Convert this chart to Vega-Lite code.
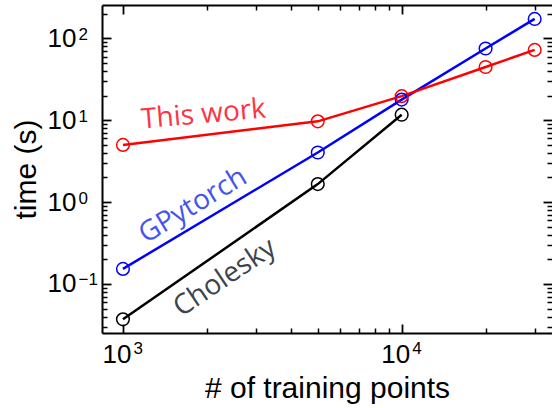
{
  "$schema": "https://vega.github.io/schema/vega-lite/v6.json",
  "autosize": {"type": "none"},
  "padding": {"left": 102, "top": 5, "right": 0, "bottom": 75},
  "width": 450,
  "height": 328,
  "background": "white",
  "config": {
    "view": {"stroke": null},
    "axis": {
      "grid": false,
      "labelFont": "Liberation Sans",
      "labelFontSize": 26,
      "labelColor": "black",
      "titleFont": "Liberation Sans",
      "titleFontSize": 30,
      "titleFontWeight": "normal",
      "titleColor": "black",
      "tickColor": "black",
      "tickWidth": 1.5,
      "domainColor": "black",
      "domainWidth": 2
    }
  },
  "datasets": {
    "series": [
      {"method": "Cholesky", "n": 1000, "t": 0.037},
      {"method": "Cholesky", "n": 5000, "t": 1.66},
      {"method": "Cholesky", "n": 10000, "t": 11.7},
      {"method": "GPytorch", "n": 1000, "t": 0.153},
      {"method": "GPytorch", "n": 5000, "t": 4.04},
      {"method": "GPytorch", "n": 10000, "t": 17.9},
      {"method": "GPytorch", "n": 20000, "t": 75.4},
      {"method": "GPytorch", "n": 30000, "t": 173},
      {"method": "This work", "n": 1000, "t": 5.0},
      {"method": "This work", "n": 5000, "t": 9.7},
      {"method": "This work", "n": 10000, "t": 19.7},
      {"method": "This work", "n": 20000, "t": 44.8},
      {"method": "This work", "n": 30000, "t": 72.4}
    ],
    "labels": [
      {"label": "This work", "n": 1946, "t": 11.6},
      {"label": "GPytorch", "n": 1784, "t": 0.897},
      {"label": "Cholesky", "n": 2323, "t": 0.118}
    ]
  },
  "resolve": {"axis": {"x": "independent", "y": "independent"}},
  "layer": [
    {
      "data": {"name": "series"},
      "mark": {"type": "line", "strokeWidth": 2.5},
      "encoding": {
        "x": {
          "field": "n", "type": "quantitative",
          "scale": {"type": "log", "domain": [841, 34620], "nice": false, "zero": false},
          "axis": {
            "orient": "bottom", "values": [1000, 10000], "tickSize": -9, "tickWidth": 1.8,
            "labelPadding": 17, "labelAlign": "right", "labelOffset": 8, "labelExpr": "'10'",
            "title": "# of training points", "titlePadding": 6, "domain": true
          }
        },
        "y": {
          "field": "t", "type": "quantitative",
          "scale": {"type": "log", "domain": [0.0252, 256], "nice": false, "zero": false},
          "axis": {
            "orient": "left", "values": [0.1, 1, 10, 100], "tickSize": -9, "tickWidth": 1.8,
            "labelPadding": 35, "labelAlign": "right", "labelExpr": "'10'",
            "title": "time (s)", "titlePadding": 6, "domain": true
          }
        },
        "color": {
          "field": "method", "type": "nominal",
          "scale": {"domain": ["Cholesky", "GPytorch", "This work"], "range": ["black", "blue", "red"]},
          "legend": null
        }
      }
    },
    {
      "data": {"name": "series"},
      "mark": {"type": "point", "shape": "circle", "filled": false, "size": 160, "strokeWidth": 1.5, "opacity": 1},
      "encoding": {
        "x": {
          "field": "n", "type": "quantitative",
          "axis": {
            "orient": "bottom", "values": [2000, 3000, 4000, 5000, 6000, 7000, 8000, 9000, 20000, 30000],
            "tickSize": -5, "labels": false, "title": null, "domain": false
          }
        },
        "y": {
          "field": "t", "type": "quantitative",
          "axis": {
            "orient": "left",
            "values": [0.03, 0.04, 0.05, 0.06, 0.07, 0.08, 0.09, 0.2, 0.3, 0.4, 0.5, 0.6, 0.7, 0.8, 0.9, 2, 3, 4, 5, 6, 7, 8, 9, 20, 30, 40, 50, 60, 70, 80, 90, 200],
            "tickSize": -5, "labels": false, "title": null, "domain": false
          }
        },
        "color": {"field": "method", "type": "nominal", "legend": null}
      }
    },
    {
      "data": {"name": "labels"},
      "transform": [{"filter": "datum.label === 'This work'"}],
      "mark": {"type": "text", "font": "Open Sans", "fontSize": 28, "angle": -5, "align": "center", "baseline": "middle", "color": "#ff3344"},
      "encoding": {
        "x": {
          "field": "n", "type": "quantitative",
          "axis": {"orient": "top", "values": [1000, 10000], "tickSize": -9, "tickWidth": 1.8, "labels": false, "title": null, "domain": true}
        },
        "y": {
          "field": "t", "type": "quantitative",
          "axis": {"orient": "right", "values": [0.1, 1, 10, 100], "tickSize": -9, "tickWidth": 1.8, "labels": false, "title": null, "domain": false}
        },
        "text": {"field": "label"}
      }
    },
    {
      "data": {"name": "labels"},
      "transform": [{"filter": "datum.label === 'GPytorch'"}],
      "mark": {"type": "text", "font": "Open Sans", "fontSize": 28, "angle": -31, "align": "center", "baseline": "middle", "color": "#4455ee"},
      "encoding": {
        "x": {
          "field": "n", "type": "quantitative",
          "axis": {
            "orient": "top", "values": [2000, 3000, 4000, 5000, 6000, 7000, 8000, 9000, 20000, 30000],
            "tickSize": -5, "labels": false, "title": null, "domain": false
          }
        },
        "y": {
          "field": "t", "type": "quantitative",
          "axis": {
            "orient": "right",
            "values": [0.03, 0.04, 0.05, 0.06, 0.07, 0.08, 0.09, 0.2, 0.3, 0.4, 0.5, 0.6, 0.7, 0.8, 0.9, 2, 3, 4, 5, 6, 7, 8, 9, 20, 30, 40, 50, 60, 70, 80, 90, 200],
            "tickSize": -5, "labels": false, "title": null, "domain": false
          }
        },
        "text": {"field": "label"}
      }
    },
    {
      "data": {"name": "labels"},
      "transform": [{"filter": "datum.label === 'Cholesky'"}],
      "mark": {"type": "text", "font": "Open Sans", "fontSize": 28, "angle": -34, "align": "center", "baseline": "middle", "color": "#3d4550"},
      "encoding": {
        "x": {
          "field": "n", "type": "quantitative",
          "axis": {
            "orient": "bottom", "values": [1000, 10000], "ticks": false, "tickSize": 0,
            "labelPadding": 7.5, "labelAlign": "left", "labelOffset": 10, "labelFontSize": 17,
            "labelExpr": "datum.value < 5000 ? '3' : '4'", "title": null, "domain": false
          }
        },
        "y": {
          "field": "t", "type": "quantitative",
          "axis": {
            "orient": "left", "values": [0.1, 1, 10, 100], "ticks": false, "tickSize": 0,
            "labelPadding": 24, "labelAlign": "left", "labelOffset": -4, "labelFontSize": 17,
            "labelExpr": "datum.value < 0.5 ? '−1' : datum.value < 5 ? '0' : datum.value < 50 ? '1' : '2'",
            "title": null, "domain": false
          }
        },
        "text": {"field": "label"}
      }
    }
  ]
}
